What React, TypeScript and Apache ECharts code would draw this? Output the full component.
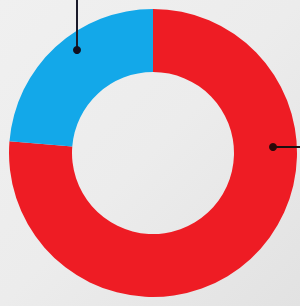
import React, { useEffect, useRef } from "react";
import * as echarts from "echarts";

const categories = ["Red", "Blue"];
const values = [76.3, 23.7];
const colors = ["#ee1c24", "#13a8e9"];

export default function App() {
  const ref = useRef<HTMLDivElement>(null);
  useEffect(() => {
    if (!ref.current) return;
    const chart = echarts.init(ref.current, undefined, { renderer: "svg" });
    chart.setOption({
      animation: false,
      backgroundColor: {
        type: "linear",
        x: 0, y: 0, x2: 1, y2: 1,
        colorStops: [
          { offset: 0, color: "#f0f0f0" },
          { offset: 0.5, color: "#ececec" },
          { offset: 1, color: "#e2e2e2" },
        ],
      },
      series: [
        {
          type: "pie",
          center: [153, 153],
          radius: [81, 144],
          startAngle: 90,
          clockwise: true,
          label: { show: false },
          labelLine: { show: false },
          silent: true,
          data: categories.map((c, i) => ({
            name: c,
            value: values[i],
            itemStyle: { color: colors[i] },
          })),
        },
      ],
      graphic: [
        { type: "line", z: 100, shape: { x1: 77, y1: 0, x2: 77, y2: 50 }, style: { stroke: "#1a1a2a", lineWidth: 2 } },
        { type: "circle", z: 101, shape: { cx: 77, cy: 50, r: 4 }, style: { fill: "#101020" } },
        { type: "line", z: 100, shape: { x1: 273, y1: 147, x2: 300, y2: 147 }, style: { stroke: "#1a1010", lineWidth: 2 } },
        { type: "circle", z: 101, shape: { cx: 273, cy: 147, r: 4 }, style: { fill: "#2a0808" } },
      ],
    });
    return () => chart.dispose();
  }, []);
  return <div ref={ref} style={{ position: "absolute", left: 0, top: 0, width: 300, height: 306 }} />;
}
